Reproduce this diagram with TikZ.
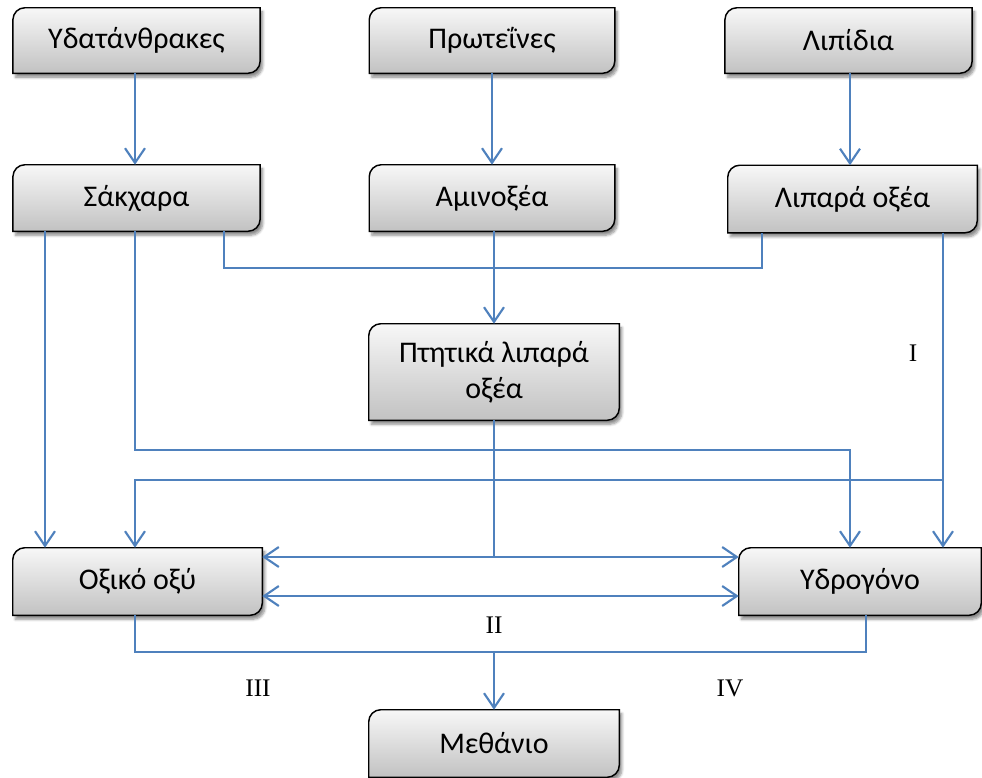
\documentclass[tikz,border=0pt]{standalone}
\usepackage{fontspec}
\setmainfont{Carlito}
\newfontfamily\numfont{Liberation Serif}
\usetikzlibrary{arrows.meta,calc,backgrounds,shadows.blur}

\definecolor{flowblue}{HTML}{4F81BD}

\tikzset{
  stage/.style={minimum width=185pt, minimum height=49.5pt, inner sep=2pt,
    font=\fontsize{22.5}{27}\selectfont, align=center},
  flow/.style={draw=flowblue, line width=1.6pt,
    arrows={-Straight Barb[length=11pt,width=15pt,line width=1.6pt]}},
  plain/.style={draw=flowblue, line width=1.6pt},
  twoway/.style={draw=flowblue, line width=1.6pt,
    arrows={Straight Barb[length=11pt,width=15pt,line width=1.6pt]-Straight Barb[length=11pt,width=15pt,line width=1.6pt]}},
  roman/.style={font=\numfont\fontsize{19}{22}\selectfont},
}

% shaded box: rounded top-left and bottom-right corners, soft drop shadow
\newcommand\gradbox[1]{%
  \path[blur shadow={shadow xshift=2pt, shadow yshift=-3pt, shadow blur steps=6, shadow opacity=45},
        top color=gray!6, bottom color=gray!48, draw=black, line width=1.1pt]
    ($(#1.north west)+(0,-9pt)$) arc[start angle=180,end angle=90,radius=9pt]
    -- (#1.north east) -- ($(#1.south east)+(0,9pt)$)
    arc[start angle=0,end angle=-90,radius=9pt]
    -- (#1.south west) -- cycle;}

\begin{document}
\begin{tikzpicture}[x=0.75pt,y=-0.75pt]
\useasboundingbox (0,0) rectangle (982,778);

% stages
\node[stage, minimum height=48.75pt] (carb)  at (136.5,40.5) {Υδατάνθρακες};
\node[stage, minimum height=48.75pt, minimum width=183.75pt] (prot) at (492,40.5) {Πρωτεΐνες};
\node[stage, minimum height=48.75pt] (lip)   at (848.5,40.5) {Λιπίδια};
\node[stage] (sug)   at (136.5,198) {Σάκχαρα};
\node[stage, minimum width=183.75pt] (amino) at (492,198) {Αμινοξέα};
\node[stage, minimum width=186.75pt, minimum height=50.25pt] (fat) at (852.5,199) {Λιπαρά οξέα};
\node[stage, minimum width=187.5pt, minimum height=72pt] (vfa) at (494,372) {Πτητικά λιπαρά\\οξέα};
\node[stage, minimum width=186.75pt, minimum height=50.25pt] (ox) at (137.5,581.5) {Οξικό οξύ};
\node[stage, minimum width=181.5pt, minimum height=50.25pt] (hyd) at (860,581.5) {Υδρογόνο};
\node[stage, minimum width=187.5pt, minimum height=50.25pt] (meth) at (494,743.5) {Μεθάνιο};

\begin{pgfonlayer}{background}
  \foreach \n in {carb,prot,lip,sug,amino,fat,vfa,ox,hyd,meth} {\gradbox{\n}}
\end{pgfonlayer}

% routing points
\coordinate (kL)  at (45,400);
\coordinate (kH)  at (135,450);
\coordinate (kHe) at (850,450);
\coordinate (kF1) at (224,268);
\coordinate (kF2) at (762,268);
\coordinate (kR)  at (943,480);
\coordinate (kO)  at (135,480);
\coordinate (kV)  at (494,557);
\coordinate (kB)  at (494,596);
\coordinate (kM1) at (135,652);
\coordinate (kM2) at (866,652);
\coordinate (kM)  at (494,652);

% hydrolysis
\draw[flow] (carb.south -| kO) -- (sug.north -| kO);
\draw[flow] (prot.south) -- (amino.north);
\draw[flow] (lip.south -| kHe) -- (fat.north -| kHe);

% acidogenesis
\draw[plain] (sug.south -| kF1) -- (kF1) -- (kF2) -- (fat.south -| kF2);
\draw[flow] (amino.south -| vfa.north) -- (vfa.north);
\draw[flow] (sug.south -| kL) -- (ox.north -| kL);
\draw[flow] (sug.south -| kH) -- (kH) -- (kHe) -- (hyd.north -| kHe);
\draw[flow] (fat.south -| kR) -- (hyd.north -| kR);
\draw[flow] (kR) -- (kO) -- (ox.north -| kO);

% acetogenesis
\draw[plain] (vfa.south) -- (kV);
\draw[flow] (kV) -- (ox.east |- kV);
\draw[flow] (kV) -- (hyd.west |- kV);
\draw[twoway] (ox.east |- kB) -- (hyd.west |- kB);

% methanogenesis
\draw[plain] (ox.south -| kM1) -- (kM1) -- (kM2) -- (hyd.south -| kM2);
\draw[flow] (kM) -- (meth.north);

% pathway labels
\node[roman] (lI)   at (913,353) {I};
\node[roman] (lII)  at (494,625) {II};
\node[roman] (lIII) at (258,688) {III};
\node[roman] (lIV)  at (730,688) {IV};
\end{tikzpicture}
\end{document}
